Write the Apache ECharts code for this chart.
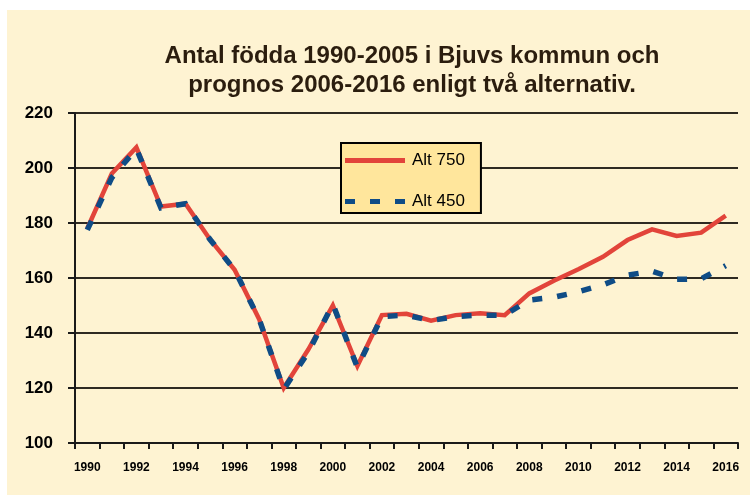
<!DOCTYPE html>
<html>
<head>
<meta charset="utf-8">
<script src="https://cdn.jsdelivr.net/npm/echarts@6/dist/echarts.min.js"></script>
<style>
html,body{margin:0;padding:0;background:#ffffff;}
#bg{position:absolute;left:7px;top:10px;width:743px;height:485px;background:#FEF3D2;}
#chart{position:absolute;left:0;top:0;width:750px;height:495px;}
</style>
</head>
<body>
<div id="bg"></div>
<div id="chart"></div>
<script>
const years = ['1990','1991','1992','1993','1994','1995','1996','1997','1998','1999','2000','2001','2002','2003','2004','2005','2006','2007','2008','2009','2010','2011','2012','2013','2014','2015','2016'];
const alt750 = [178, 198, 207.5, 186, 187, 174, 163, 145, 120, 134, 150, 128, 146.5, 147, 144.5, 146.5, 147.2, 146.5, 154.4, 159, 163.2, 167.7, 173.8, 177.7, 175.3, 176.5, 182.7];
const alt450 = [177.5, 196.5, 207, 185.5, 187, 174, 163, 145, 119.5, 133, 150.5, 127.5, 146, 146.5, 144.5, 146, 146.5, 146.5, 152, 153, 155, 157.5, 161, 162.5, 159.5, 159.7, 164.5];
const yTicks = {min: 100, max: 220, interval: 20};
const titleText = 'Antal födda 1990-2005 i Bjuvs kommun och\nprognos 2006-2016 enligt två alternativ.';

const chart = echarts.init(document.getElementById('chart'), null, {renderer: 'canvas'});
const font = '"Liberation Sans", Arial, sans-serif';
chart.setOption({
  backgroundColor: 'transparent',
  animation: false,
  title: {
    text: titleText,
    left: 407,
    top: 37,
    textAlign: 'center',
    textStyle: {fontFamily: font, fontWeight: 'bold', fontSize: 24, lineHeight: 29, color: '#2b1d0e'}
  },
  legend: {
    orient: 'vertical',
    left: 341,
    top: 143,
    padding: [9, 16, 3, 4],
    itemGap: 24,
    itemWidth: 60,
    itemHeight: 5,
    backgroundColor: '#FFE69C',
    borderColor: '#000000',
    borderWidth: 2,
    borderRadius: 0,
    textStyle: {fontFamily: font, fontSize: 17, color: '#000000', padding: [0, 0, 0, 2]},
    data: [
      {name: 'Alt 750', icon: 'rect'},
      {name: 'Alt 450', icon: 'path://M0,0h10v5h-10z M25,0h10v5h-10z M50,0h10v5h-10z'}
    ]
  },
  grid: {left: 75, right: 12, top: 113, bottom: 52},
  xAxis: {
    type: 'category',
    data: years,
    boundaryGap: true,
    axisLine: {show: true, lineStyle: {color: '#1a1a1a', width: 2}},
    axisTick: {show: true, interval: 0, length: 6, lineStyle: {color: '#1a1a1a', width: 2}},
    axisLabel: {interval: 1, margin: 19, fontFamily: font, fontWeight: 'bold', fontSize: 12, color: '#000'},
    splitLine: {show: false}
  },
  yAxis: {
    type: 'value',
    min: yTicks.min,
    max: yTicks.max,
    interval: yTicks.interval,
    axisLine: {show: true, lineStyle: {color: '#1a1a1a', width: 2}},
    axisTick: {show: true, inside: false, length: 7, lineStyle: {color: '#1a1a1a', width: 2}},
    axisLabel: {margin: 22, fontFamily: font, fontWeight: 'bold', fontSize: 17, color: '#000'},
    splitLine: {show: true, lineStyle: {color: '#2e2a22', width: 2}}
  },
  series: [
    {
      name: 'Alt 750',
      type: 'line',
      data: alt750,
      symbol: 'none',
      lineStyle: {color: '#E2443A', width: 4.5, cap: 'butt', join: 'miter'},
      itemStyle: {color: '#E2443A'},
      z: 3
    },
    {
      name: 'Alt 450',
      type: 'line',
      data: alt450,
      symbol: 'none',
      lineStyle: {color: '#0F4C86', width: 5.5, type: [10, 15], cap: 'butt', join: 'miter'},
      itemStyle: {color: '#0F4C86'},
      z: 4
    }
  ]
});
</script>
</body>
</html>
